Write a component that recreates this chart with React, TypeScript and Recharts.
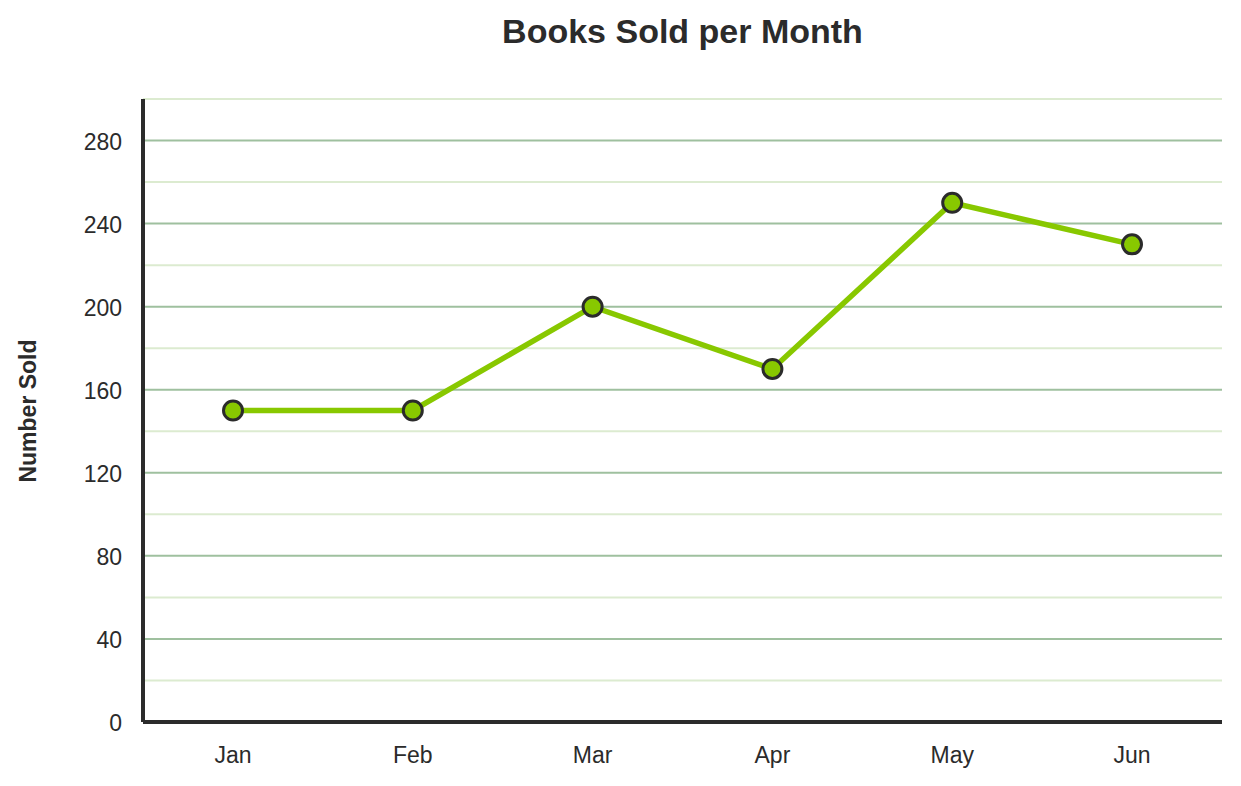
import { LineChart, Line, XAxis, YAxis, ReferenceLine } from 'recharts'

const MONTHS = ['Jan', 'Feb', 'Mar', 'Apr', 'May', 'Jun']
const SOLD = [150, 150, 200, 170, 250, 230]
const Y_TICKS = [0, 40, 80, 120, 160, 200, 240, 280]
const MAJOR_GRID = [40, 80, 120, 160, 200, 240, 280]
const MINOR_GRID = [20, 60, 100, 140, 180, 220, 260, 300]

const FONT = '"Liberation Sans", Arial, sans-serif'
const INK = '#2b2b2b'
const LIME = '#88c800'

const data = MONTHS.map((m, i) => ({ month: m, sold: SOLD[i] }))

export default function App() {
  return (
    <div style={{ position: 'absolute', left: 0, top: 0, width: 1241, height: 786, background: '#fff', fontFamily: FONT }}>
      <div
        style={{
          position: 'absolute',
          left: 143,
          width: 1079,
          top: 14,
          textAlign: 'center',
          fontSize: 34,
          lineHeight: 1,
          fontWeight: 'bold',
          color: INK,
        }}
      >
        Books Sold per Month
      </div>
      <div
        style={{
          position: 'absolute',
          left: 28,
          top: 411,
          transform: 'translate(-50%, -50%) rotate(-90deg)',
          whiteSpace: 'nowrap',
          fontSize: 23,
          lineHeight: 1,
          fontWeight: 'bold',
          color: INK,
        }}
      >
        Number Sold
      </div>
      <LineChart
        width={1241}
        height={786}
        data={data}
        margin={{ top: 99, right: 19, bottom: 0, left: 0 }}
      >
        {MINOR_GRID.map((v) => (
          <ReferenceLine key={'mi' + v} y={v} stroke="#dcebd0" strokeWidth={2} ifOverflow="visible" />
        ))}
        {MAJOR_GRID.map((v) => (
          <ReferenceLine key={'ma' + v} y={v} stroke="#9fc09f" strokeWidth={2} />
        ))}
        <XAxis
          dataKey="month"
          padding={{ left: 90, right: 90 }}
          height={64}
          axisLine={{ stroke: INK, strokeWidth: 4 }}
          tickLine={false}
          tickSize={0}
          tickMargin={25}
          tick={{ fontSize: 23, fill: INK, fontFamily: FONT }}
        />
        <YAxis
          domain={[0, 300]}
          ticks={Y_TICKS}
          width={143}
          axisLine={{ stroke: INK, strokeWidth: 4 }}
          tickLine={false}
          tickSize={0}
          tickMargin={21}
          tick={{ fontSize: 23, fill: INK, fontFamily: FONT, dy: 1 }}
        />
        <Line
          dataKey="sold"
          type="linear"
          stroke={LIME}
          strokeWidth={5.5}
          dot={{ r: 9.5, fill: LIME, stroke: INK, strokeWidth: 3 }}
          activeDot={false}
          isAnimationActive={false}
        />
      </LineChart>
    </div>
  )
}
